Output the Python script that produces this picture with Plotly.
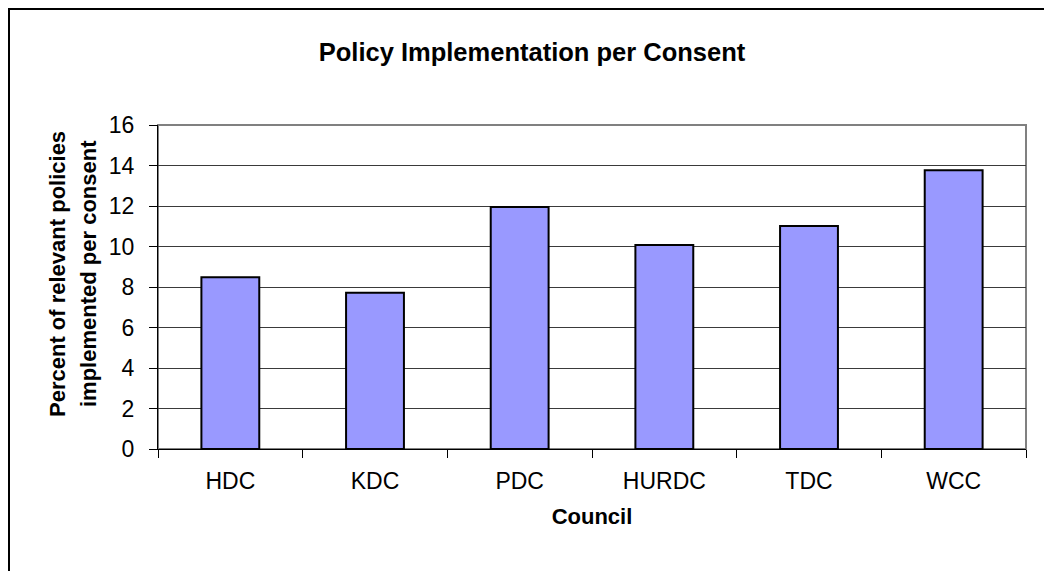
import plotly.graph_objects as go

councils = ["HDC", "KDC", "PDC", "HURDC", "TDC", "WCC"]
percent_per_consent = [8.48, 7.72, 11.95, 10.07, 11.01, 13.76]
y_ticks = [0, 2, 4, 6, 8, 10, 12, 14, 16]
y_title_lines = ["Percent of relevant policies", "implemented per consent"]

FONT = "Liberation Sans, Arial, sans-serif"
W, H = 1044, 571
L, R, T, B = 158, 18, 125, 122
PW, PH = W - L - R, H - T - B

fig = go.Figure()
fig.add_trace(go.Bar(
    x=councils,
    y=percent_per_consent,
    marker=dict(color="#9999FF", line=dict(color="black", width=2)),
    width=0.4,
))

# y-axis title drawn as two rotated lines (reference uses wide line spacing)
line_centers_x = [57, 88]
for txt, cx in zip(y_title_lines, line_centers_x):
    fig.add_annotation(
        text=f"<b>{txt}</b>", textangle=-90, showarrow=False,
        xref="paper", yref="paper",
        x=(cx - L) / PW, y=1 - (274 - T) / PH,
        xanchor="center", yanchor="middle",
        font=dict(size=22, family=FONT, color="black"),
    )

fig.update_layout(
    width=W, height=H,
    margin=dict(l=L, r=R, t=T, b=B),
    paper_bgcolor="white", plot_bgcolor="white",
    showlegend=False,
    font=dict(family=FONT, color="black", size=23),
    title=dict(
        text="<b>Policy Implementation per Consent</b>",
        x=532 / W, xanchor="center", xref="container",
        y=1 - 52 / H, yanchor="middle", yref="container",
        font=dict(size=25.5, family=FONT, color="black"),
    ),
    xaxis=dict(
        showgrid=False,
        showline=True, linecolor="black", linewidth=1,
        ticks="outside", ticklen=8, tickcolor="black",
        tickson="boundaries",
        tickfont=dict(size=23),
        ticklabelstandoff=11,
        title=dict(text="<b>Council</b>", font=dict(size=22), standoff=16),
    ),
    yaxis=dict(
        range=[0, 16], tickvals=y_ticks,
        showgrid=True, gridcolor="#3a3a3a", gridwidth=1,
        showline=True, linecolor="black", linewidth=1,
        ticks="outside", ticklen=8, tickcolor="black",
        tickfont=dict(size=23),
        ticklabelstandoff=10,
        zeroline=False,
    ),
    shapes=[
        dict(type="rect", xref="paper", yref="paper", x0=0, x1=1, y0=0, y1=1,
             line=dict(color="#808080", width=2), layer="below"),
        dict(type="rect", xref="paper", yref="paper",
             x0=-(L - 9) / PW, x1=1.2,
             y0=-1.0, y1=1 + (T - 9) / PH,
             line=dict(color="black", width=2), layer="below"),
    ],
)

fig.write_html("out.html", config={"displayModeBar": False},
               post_script="document.body.style.margin='0px';")
